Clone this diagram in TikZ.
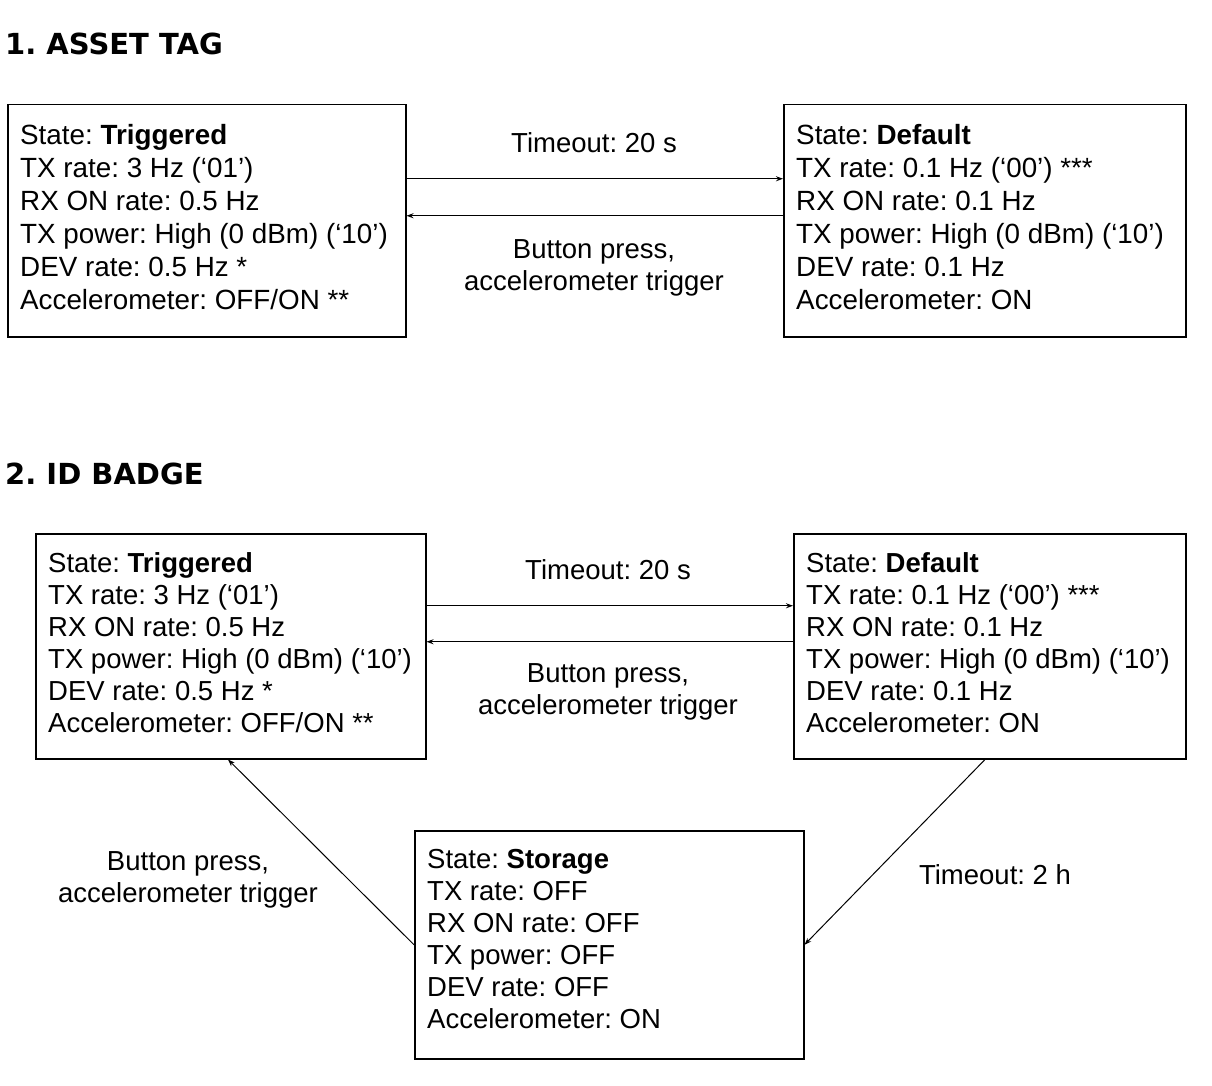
\documentclass[tikz,border=0pt]{standalone}
\usepackage{fontspec}
\setmainfont{Liberation Sans}
\newfontfamily\titlefont{DejaVu Sans}
\usetikzlibrary{arrows.meta}
\frenchspacing
\tikzset{
  box/.style={draw, line width=1.5pt, inner sep=0pt, anchor=north west},
  txtA/.style={align=left, anchor=north west, inner sep=0pt, font=\fontsize{27.8}{33}\selectfont},
  txtB/.style={align=left, anchor=north west, inner sep=0pt, font=\fontsize{27.5}{32}\selectfont},
  lbl/.style={align=center, inner sep=0pt, font=\fontsize{27.5}{32.5}\selectfont},
  ttl/.style={anchor=base west, inner sep=0pt, font=\titlefont\bfseries\fontsize{29}{32}\selectfont},
  arr/.style={-{Stealth[length=7pt,width=5pt]}, line width=1pt},
}
\begin{document}
\begin{tikzpicture}[x=1pt,y=-1pt]
\useasboundingbox[fill=white] (0,0) rectangle (1212,1086);

% ---------- Section 1 ----------
\node[ttl] (t1) at (5,55) {1. ASSET TAG};

\node[box, minimum width=398pt, minimum height=232pt] (a1) at (7,104) {};
\node[txtA] (a1t) at (20,124) {State: \textbf{Triggered}\\TX rate: 3 Hz (‘01’)\\RX ON rate: 0.5 Hz\\TX power: High (0 dBm) (‘10’)\\DEV rate: 0.5 Hz *\\Accelerometer: OFF/ON **};

\node[box, minimum width=402pt, minimum height=232pt] (b1) at (783,104) {};
\node[txtA] (b1t) at (796,124) {State: \textbf{Default}\\TX rate: 0.1 Hz (‘00’) ***\\RX ON rate: 0.1 Hz\\TX power: High (0 dBm) (‘10’)\\DEV rate: 0.1 Hz\\Accelerometer: ON};

\draw[arr] ([yshift=42pt]a1.east) -- ([yshift=42pt]b1.west);
\draw[arr] ([yshift=5pt]b1.west) -- ([yshift=5pt]a1.east);
\node[lbl] (l1) at (594,143) {Timeout: 20 s};
\node[lbl] (l2) at (594,268) {Button press,\\accelerometer trigger};

% ---------- Section 2 ----------
\node[ttl] (t2) at (5,484) {2. ID BADGE};

\node[box, minimum width=390pt, minimum height=225pt] (a2) at (35,533) {};
\node[txtB] (a2t) at (48,552) {State: \textbf{Triggered}\\TX rate: 3 Hz (‘01’)\\RX ON rate: 0.5 Hz\\TX power: High (0 dBm) (‘10’)\\DEV rate: 0.5 Hz *\\Accelerometer: OFF/ON **};

\node[box, minimum width=392pt, minimum height=225pt] (b2) at (793,533) {};
\node[txtB] (b2t) at (806,552) {State: \textbf{Default}\\TX rate: 0.1 Hz (‘00’) ***\\RX ON rate: 0.1 Hz\\TX power: High (0 dBm) (‘10’)\\DEV rate: 0.1 Hz\\Accelerometer: ON};

\draw[arr] ([yshift=40.5pt]a2.east) -- ([yshift=40.5pt]b2.west);
\draw[arr] ([yshift=4.5pt]b2.west) -- ([yshift=4.5pt]a2.east);
\node[lbl] (l3) at (608,570) {Timeout: 20 s};
\node[lbl] (l4) at (608,692) {Button press,\\accelerometer trigger};

\node[box, minimum width=389pt, minimum height=228pt] (s2) at (414,830) {};
\node[txtB] (s2t) at (427,849) {State: \textbf{Storage}\\TX rate: OFF\\RX ON rate: OFF\\TX power: OFF\\DEV rate: OFF\\Accelerometer: ON};

\draw[arr] (s2.west) -- ([xshift=193pt]a2.south west);
\draw[arr] ([xshift=192pt]b2.south west) -- (s2.east);
\node[lbl] (l5) at (188,880) {Button press,\\accelerometer trigger};
\node[lbl] (l6) at (995,875) {Timeout: 2 h};
\end{tikzpicture}
\end{document}
